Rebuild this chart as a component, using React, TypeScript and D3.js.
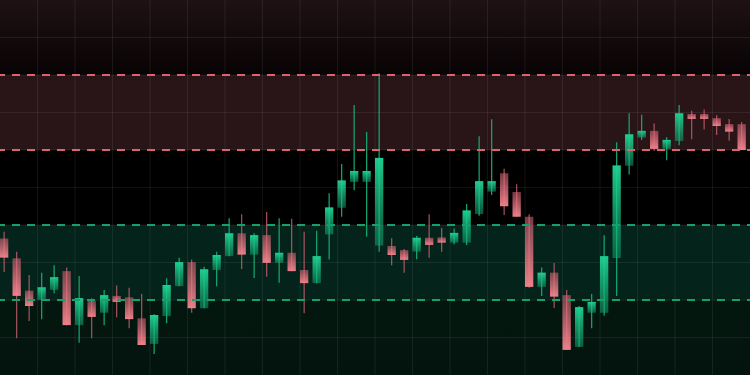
import React from "react";
import * as d3 from "d3";

const W = 750;
const H = 375;

// OHLC values (price units, 0..100 range)
const opens = [36.4, 31.1, 22.5, 20.0, 22.7, 27.7, 13.3, 19.8, 16.6, 21.1, 20.7, 15.1, 8.3, 15.7, 23.7, 30.1, 17.8, 28.0, 31.7, 37.8, 32.1, 37.3, 29.9, 32.6, 28.0, 24.5, 37.5, 44.6, 51.5, 51.5, 34.5, 34.4, 33.3, 32.9, 36.6, 36.7, 35.3, 35.3, 42.9, 48.9, 53.8, 48.8, 42.2, 23.5, 27.3, 21.3, 7.5, 16.6, 16.6, 31.2, 55.8, 63.3, 65.1, 60.3, 62.4, 69.6, 69.6, 68.5, 66.9, 66.9];
const highs = [38.2, 32.9, 26.7, 27.3, 29.3, 28.7, 26.4, 20.5, 22.7, 23.9, 23.3, 21.6, 16.2, 25.8, 31.3, 30.8, 28.9, 32.9, 41.8, 42.9, 37.8, 43.5, 41.8, 41.7, 38.2, 38.5, 48.5, 56.3, 72.0, 64.8, 80.5, 36.5, 33.6, 37.1, 42.9, 39.2, 39.1, 45.6, 63.7, 68.2, 55.0, 50.9, 42.9, 28.7, 29.9, 22.7, 18.4, 21.6, 37.3, 62.1, 69.8, 69.4, 67.1, 63.4, 72.0, 70.5, 70.8, 69.3, 68.3, 67.5];
const lows = [27.5, 9.8, 14.4, 14.9, 21.8, 13.3, 8.6, 9.8, 13.3, 15.4, 12.5, 8.0, 5.6, 13.8, 23.7, 16.6, 17.8, 23.7, 31.7, 28.3, 25.9, 26.2, 24.6, 27.7, 16.5, 24.5, 30.8, 42.2, 49.3, 36.9, 32.9, 29.3, 27.3, 30.9, 31.3, 32.9, 34.9, 34.7, 42.5, 48.0, 42.7, 42.2, 23.3, 21.1, 17.9, 6.7, 7.5, 12.5, 15.8, 21.1, 53.5, 62.7, 59.8, 57.3, 61.3, 62.9, 65.5, 64.0, 62.5, 60.0];
const closes = [31.3, 21.1, 18.4, 23.4, 26.1, 13.3, 20.5, 15.5, 21.3, 19.5, 14.9, 8.0, 16.0, 24.0, 30.1, 17.8, 28.2, 32.0, 37.8, 32.1, 37.3, 29.9, 32.6, 27.7, 24.5, 31.7, 44.7, 51.9, 54.4, 54.4, 57.9, 32.0, 30.7, 36.6, 34.7, 35.3, 37.9, 43.9, 51.7, 51.7, 45.0, 42.2, 23.5, 27.3, 20.9, 6.7, 18.1, 19.5, 31.7, 55.9, 64.2, 65.1, 60.3, 62.7, 69.8, 68.3, 68.3, 66.4, 64.9, 60.0];

// zones
const zoneLows = [60, 20];
const zoneHighs = [80, 40];
const zoneKinds = ["resistance", "support"];

const yTicks = [10, 20, 30, 40, 50, 60, 70, 80, 90];
const xTicks = [1, 2, 3, 4, 5, 6, 7, 8, 9, 10, 11, 12, 13, 14, 15, 16, 17, 18, 19];

export default function App() {
  const idx = opens.map((_, i) => i);
  const x = d3.scaleBand<number>().domain(idx).range([0, 745.8]).paddingInner(0.336).paddingOuter(0);
  const y = d3.scaleLinear().domain([0, 100]).range([H, 0]);
  const xg = d3.scaleLinear().domain([0, 20]).range([0, W]);
  const bw = x.bandwidth();

  const green = "#1cc98a";
  const red = "#ee7d89";

  return (
    <div style={{ position: "fixed", left: 0, top: 0, width: W, height: H, background: "#000" }}>
      <svg width={W} height={H} style={{ display: "block" }}>
        <defs>
          <linearGradient id="topBg" x1="0" y1="0" x2="0" y2="1">
            <stop offset="0" stopColor="#1f1114" />
            <stop offset="1" stopColor="#070304" />
          </linearGradient>
          <linearGradient id="bottomBg" x1="0" y1="0" x2="0" y2="1">
            <stop offset="0" stopColor="#03170f" />
            <stop offset="1" stopColor="#03140e" />
          </linearGradient>
          <linearGradient id="gUp" x1="0" y1="0" x2="0" y2="1">
            <stop offset="0" stopColor="#1fd393" stopOpacity={0.97} />
            <stop offset="1" stopColor="#14a872" stopOpacity={0.5} />
          </linearGradient>
          <linearGradient id="gDown" x1="0" y1="0" x2="0" y2="1">
            <stop offset="0" stopColor="#d86877" stopOpacity={0.55} />
            <stop offset="1" stopColor="#f2838e" stopOpacity={0.97} />
          </linearGradient>
        </defs>

        <rect x={0} y={y(100)} width={W} height={y(80) - y(100)} fill="url(#topBg)" />
        <rect x={0} y={y(20)} width={W} height={y(0) - y(20)} fill="url(#bottomBg)" />
        {zoneLows.map((lo, i) => (
          <rect
            key={"z" + i}
            x={0}
            y={y(zoneHighs[i])}
            width={W}
            height={y(lo) - y(zoneHighs[i])}
            fill={zoneKinds[i] === "resistance" ? "#291518" : "#04231a"}
          />
        ))}

        {yTicks.map((t) => (
          <line key={"gy" + t} x1={0} x2={W} y1={y(t)} y2={y(t)} stroke="#ffffff" strokeOpacity={0.07} strokeWidth={1} />
        ))}
        {xTicks.map((t) => (
          <line key={"gx" + t} x1={xg(t)} x2={xg(t)} y1={0} y2={H} stroke="#ffffff" strokeOpacity={0.07} strokeWidth={1} />
        ))}

        {idx.map((i) => {
          const up = closes[i] >= opens[i];
          const cx = (x(i) as number) + bw / 2;
          const top = y(Math.max(opens[i], closes[i]));
          const bot = y(Math.min(opens[i], closes[i]));
          return (
            <g key={"c" + i}>
              <line
                x1={cx}
                x2={cx}
                y1={y(highs[i])}
                y2={y(lows[i])}
                stroke={up ? "#15a871" : "#c25f6d"}
                strokeOpacity={up ? 0.95 : 0.8}
                strokeWidth={1.3}
              />
              <rect
                x={x(i)}
                y={top}
                width={bw}
                height={Math.max(1, bot - top)}
                fill={up ? "url(#gUp)" : "url(#gDown)"}
              />
            </g>
          );
        })}

        {zoneLows.map((lo, i) => {
          const col = zoneKinds[i] === "resistance" ? "#d9646f" : "#17a06c";
          return (
            <g key={"d" + i}>
              {[zoneHighs[i], lo].map((v) => (
                <line
                  key={v}
                  x1={0}
                  x2={W}
                  y1={y(v)}
                  y2={y(v)}
                  stroke={col}
                  strokeWidth={2}
                  strokeDasharray="8 7"
                  strokeDashoffset={3}
                />
              ))}
            </g>
          );
        })}
      </svg>
    </div>
  );
}
